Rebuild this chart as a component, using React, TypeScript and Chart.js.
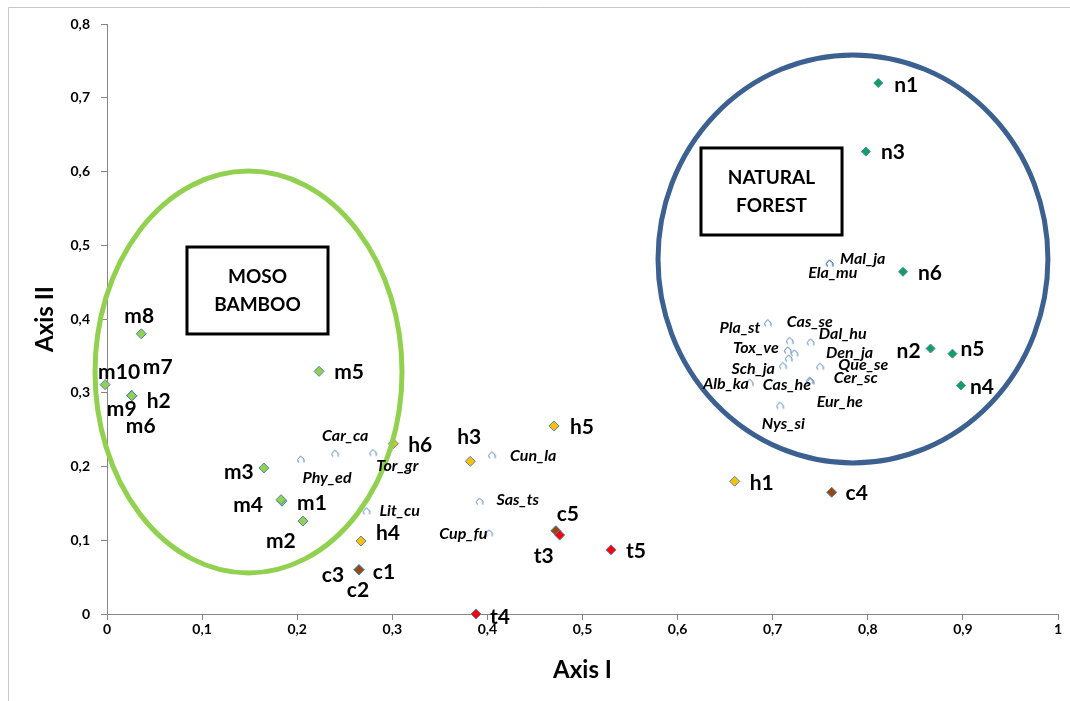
import React, { useEffect, useRef } from 'react';
import { Chart, registerables } from 'chart.js';

Chart.register(...registerables);

// ---------- DATA ----------
// Moso bamboo plots
const mosoNames = ['m1', 'm2', 'm3', 'm4', 'm5', 'm6', 'm7', 'm8', 'm9', 'm10'];
const mosoX = [0.184, 0.206, 0.165, 0.183, 0.223, 0.026, 0.026, 0.036, 0.026, -0.002];
const mosoY = [0.153, 0.126, 0.198, 0.155, 0.329, 0.296, 0.296, 0.380, 0.296, 0.311];
const mosoLabelDx = [30, -22, -25, -33, 30, 9, 26, -2, -10, 14];
const mosoLabelDy = [2, 20, 4, 6, 1, 31, -28, -18, 14, -12];

// Natural forest plots
const naturalNames = ['n1', 'n2', 'n3', 'n4', 'n5', 'n6'];
const naturalX = [0.811, 0.866, 0.798, 0.898, 0.889, 0.837];
const naturalY = [0.720, 0.360, 0.627, 0.310, 0.353, 0.464];
const naturalLabelDx = [28, -22, 27, 21, 20, 27];
const naturalLabelDy = [2, 3, 1, 2, -4, 1];

// h plots
const hNames = ['h1', 'h2', 'h3', 'h4', 'h5', 'h6'];
const hX = [0.660, 0.026, 0.382, 0.267, 0.470, 0.301];
const hY = [0.180, 0.296, 0.207, 0.099, 0.255, 0.231];
const hLabelDx = [27, 27, -1, 27, 28, 27];
const hLabelDy = [2, 6, -24, -8, 1, 2];

// c plots
const cNames = ['c1', 'c2', 'c3', 'c4', 'c5'];
const cX = [0.265, 0.265, 0.265, 0.762, 0.472];
const cY = [0.060, 0.060, 0.060, 0.165, 0.113];
const cLabelDx = [25, -1, -26, 25, 12];
const cLabelDy = [2, 20, 5, 1, -16];

// t plots
const tNames = ['t3', 't4', 't5'];
const tX = [0.476, 0.388, 0.530];
const tY = [0.107, 0.000, 0.087];
const tLabelDx = [-16, 24, 25];
const tLabelDy = [21, 3, 1];

// Species
const speciesNames = [
  'Phy_ed', 'Car_ca', 'Tor_gr', 'Lit_cu', 'Cun_la', 'Sas_ts', 'Cup_fu',
  'Mal_ja', 'Ela_mu', 'Pla_st', 'Cas_se', 'Dal_hu', 'Tox_ve', 'Den_ja',
  'Sch_ja', 'Que_se', 'Alb_ka', 'Cas_he', 'Cer_sc', 'Eur_he', 'Nys_si',
];
const speciesX = [
  0.204, 0.240, 0.280, 0.273, 0.405, 0.392, 0.402,
  0.760, 0.760, 0.695, 0.718, 0.740, 0.716, 0.723,
  0.711, 0.750, 0.676, 0.717, 0.739, 0.740, 0.708,
];
const speciesY = [
  0.210, 0.218, 0.219, 0.140, 0.216, 0.153, 0.110,
  0.476, 0.476, 0.395, 0.371, 0.369, 0.358, 0.354,
  0.337, 0.336, 0.314, 0.347, 0.317, 0.316, 0.283,
];
const speciesLabelDx = [
  26, 10, 24, 33, 41, 38, -26,
  33, 3, -28, 20, 32, -32, 55,
  -30, 43, -24, -2, 46, 29, 3,
];
const speciesLabelDy = [
  19, -17, 13, 0, 1, -1, 1,
  -4, 10, 5, -19, -8, -2, 0,
  3, -1, 1, 27, -2, 21, 19,
];

const xTicks = [0, 0.1, 0.2, 0.3, 0.4, 0.5, 0.6, 0.7, 0.8, 0.9, 1];
const yTicks = [0, 0.1, 0.2, 0.3, 0.4, 0.5, 0.6, 0.7, 0.8];

// Annotations (in data units)
const groupEllipses = [
  { cx: 0.1488, cy: 0.3281, rx: 0.1614, ry: 0.2725, color: '#92d050' },
  { cx: 0.7844, cy: 0.4814, rx: 0.2050, ry: 0.2766, color: '#3c6190' },
];
const groupBoxes = [
  { x0: 0.0841, x1: 0.2324, y0: 0.4976, y1: 0.3797, lines: ['MOSO', 'BAMBOO'] },
  { x0: 0.6246, x1: 0.7729, y0: 0.6319, y1: 0.5139, lines: ['NATURAL', 'FOREST'] },
];

const FONT = 'Lato, "Open Sans", "Liberation Sans", sans-serif';

function fmt(v: number): string {
  if (Math.abs(v) < 1e-9) return '0';
  if (Math.abs(v - 1) < 1e-9) return '1';
  return v.toFixed(1).replace('.', ',');
}

function makeSpeciesMarker(): HTMLCanvasElement {
  const c = document.createElement('canvas');
  c.width = 10;
  c.height = 10;
  const g = c.getContext('2d')!;
  g.strokeStyle = '#4f81bd';
  g.lineWidth = 1;
  g.beginPath();
  g.moveTo(2.5, 8.5);
  g.lineTo(1.5, 5.5);
  g.lineTo(4.5, 2.0);
  g.lineTo(8.0, 5.0);
  g.lineTo(8.0, 8.5);
  g.stroke();
  return c;
}

export default function App() {
  const ref = useRef<HTMLCanvasElement | null>(null);

  useEffect(() => {
    if (!ref.current) return;
    const marker = makeSpeciesMarker();

    const toPts = (xs: number[], ys: number[]) => xs.map((x, i) => ({ x, y: ys[i] }));

    const groups = [
      { names: tNames, xs: tX, ys: tY, dx: tLabelDx, dy: tLabelDy, color: '#ff0000', species: false },
      { names: mosoNames, xs: mosoX, ys: mosoY, dx: mosoLabelDx, dy: mosoLabelDy, color: '#92d050', species: false },
      { names: naturalNames, xs: naturalX, ys: naturalY, dx: naturalLabelDx, dy: naturalLabelDy, color: '#10a060', species: false },
      { names: cNames, xs: cX, ys: cY, dx: cLabelDx, dy: cLabelDy, color: '#984807', species: false },
      { names: hNames, xs: hX, ys: hY, dx: hLabelDx, dy: hLabelDy, color: '#ffc000', species: false },
      { names: speciesNames, xs: speciesX, ys: speciesY, dx: speciesLabelDx, dy: speciesLabelDy, color: '#4f81bd', species: true },
    ];

    const datasets: any[] = groups.map((g) => ({
      label: g.names[0],
      data: toPts(g.xs, g.ys),
      pointStyle: g.species ? marker : 'rectRot',
      pointRadius: g.species ? 5 : (g.color === '#10a060' ? 4.5 : 5),
      pointBackgroundColor: g.color,
      pointBorderColor: '#4f81bd',
      pointBorderWidth: 1,
      showLine: false,
      clip: false,
    }));

    const overlay = {
      id: 'overlay',
      afterDatasetsDraw(chart: any) {
        const ctx = chart.ctx as CanvasRenderingContext2D;
        const sx = chart.scales.x;
        const sy = chart.scales.y;
        ctx.save();
        // ellipses
        groupEllipses.forEach((e) => {
          const cx = sx.getPixelForValue(e.cx);
          const cy = sy.getPixelForValue(e.cy);
          const rx = Math.abs(sx.getPixelForValue(e.cx + e.rx) - cx);
          const ry = Math.abs(sy.getPixelForValue(e.cy + e.ry) - cy);
          ctx.beginPath();
          ctx.ellipse(cx, cy, rx, ry, 0, 0, Math.PI * 2);
          ctx.lineWidth = 5;
          ctx.strokeStyle = e.color;
          ctx.stroke();
        });
        // boxes
        groupBoxes.forEach((b) => {
          const x0 = sx.getPixelForValue(b.x0);
          const x1 = sx.getPixelForValue(b.x1);
          const y0 = sy.getPixelForValue(b.y0);
          const y1 = sy.getPixelForValue(b.y1);
          ctx.fillStyle = '#ffffff';
          ctx.fillRect(x0, y0, x1 - x0, y1 - y0);
          ctx.lineWidth = 3;
          ctx.strokeStyle = '#000000';
          ctx.strokeRect(x0, y0, x1 - x0, y1 - y0);
          ctx.fillStyle = '#000000';
          ctx.font = `bold 19px ${FONT}`;
          ctx.textAlign = 'center';
          ctx.textBaseline = 'middle';
          const cxm = (x0 + x1) / 2;
          const cym = (y0 + y1) / 2;
          const lh = 28;
          b.lines.forEach((t, i) => {
            ctx.fillText(t, cxm, cym + (i - (b.lines.length - 1) / 2) * lh);
          });
        });
        // labels
        ctx.textAlign = 'center';
        ctx.textBaseline = 'middle';
        ctx.fillStyle = '#000000';
        groups.forEach((g, di) => {
          const meta = chart.getDatasetMeta(di);
          ctx.font = g.species ? `italic bold 16px ${FONT}` : `bold 21px ${FONT}`;
          meta.data.forEach((pt: any, i: number) => {
            ctx.fillText(g.names[i], pt.x + g.dx[i], pt.y + g.dy[i]);
          });
        });
        ctx.restore();
      },
      afterDraw(chart: any) {
        const ctx = chart.ctx as CanvasRenderingContext2D;
        const a = chart.chartArea;
        ctx.save();
        ctx.fillStyle = '#000000';
        ctx.font = `bold 24px ${FONT}`;
        ctx.textAlign = 'center';
        ctx.textBaseline = 'middle';
        ctx.fillText('Axis I', (a.left + a.right) / 2, 670);
        ctx.translate(45, (a.top + a.bottom) / 2);
        ctx.rotate(-Math.PI / 2);
        ctx.fillText('Axis II', 0, 0);
        ctx.restore();
        // outer frame
        ctx.save();
        ctx.strokeStyle = '#c8c8c8';
        ctx.lineWidth = 1;
        ctx.beginPath();
        ctx.moveTo(8.5, 701);
        ctx.lineTo(8.5, 7.5);
        ctx.lineTo(1070, 7.5);
        ctx.stroke();
        ctx.restore();
      },
    };

    const chart = new Chart(ref.current, {
      type: 'scatter',
      data: { datasets },
      plugins: [overlay],
      options: {
        responsive: false,
        animation: false,
        devicePixelRatio: 1,
        layout: { padding: { left: 0, top: 24, right: 12, bottom: 0 } },
        plugins: {
          legend: { display: false },
          tooltip: { enabled: false },
          title: { display: false },
        },
        scales: {
          x: {
            type: 'linear',
            min: 0,
            max: 1,
            afterFit: (s: any) => { s.height = 87; },
            afterBuildTicks: (s: any) => { s.ticks = xTicks.map((v) => ({ value: v })); },
            ticks: {
              callback: (v: any) => fmt(Number(v)),
              font: { family: FONT, size: 14, weight: 'bold' },
              color: '#000000',
              padding: 1,
              maxRotation: 0,
            },
            grid: { drawOnChartArea: false, drawTicks: true, tickLength: 6, color: '#868686' },
            border: { display: true, color: '#868686', width: 1 },
          },
          y: {
            type: 'linear',
            min: 0,
            max: 0.8,
            afterFit: (s: any) => { s.width = 107; },
            afterBuildTicks: (s: any) => { s.ticks = yTicks.map((v) => ({ value: v })); },
            ticks: {
              callback: (v: any) => fmt(Number(v)),
              font: { family: FONT, size: 14, weight: 'bold' },
              color: '#000000',
              padding: 11,
            },
            grid: { drawOnChartArea: false, drawTicks: true, tickLength: 6, color: '#868686' },
            border: { display: true, color: '#868686', width: 1 },
          },
        },
      } as any,
    });

    return () => chart.destroy();
  }, []);

  return (
    <div style={{ position: 'fixed', left: 0, top: 0, width: 1070, height: 701, background: '#ffffff' }}>
      <canvas ref={ref} width={1070} height={701} style={{ display: 'block' }} />
    </div>
  );
}
